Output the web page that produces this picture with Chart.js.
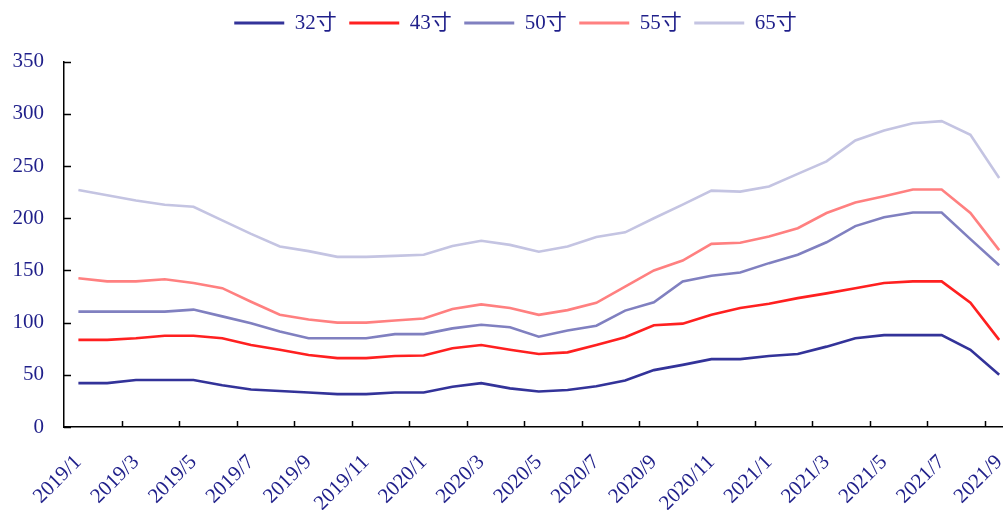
<!DOCTYPE html>
<html>
<head>
<meta charset="utf-8">
<script src="https://cdn.jsdelivr.net/npm/chart.js@4.4.1/dist/chart.umd.min.js"></script>
<style>
  html, body { margin: 0; padding: 0; background: #fff; overflow: hidden; }
  #wrap { position: relative; width: 1025px; height: 510px; }
</style>
</head>
<body>
<div id="wrap"><canvas id="c"></canvas></div>
<script>
const categories = [
  '2019/1','2019/2','2019/3','2019/4','2019/5','2019/6','2019/7','2019/8','2019/9','2019/10','2019/11','2019/12',
  '2020/1','2020/2','2020/3','2020/4','2020/5','2020/6','2020/7','2020/8','2020/9','2020/10','2020/11','2020/12',
  '2021/1','2021/2','2021/3','2021/4','2021/5','2021/6','2021/7','2021/8','2021/9'
];
const seriesNames = ['32寸', '43寸', '50寸', '55寸', '65寸'];
const s32 = [42, 42, 45, 45, 45, 40, 36, 34.5, 33, 31.5, 31.5, 33, 33, 38.5, 42, 37,
             34, 35.5, 39, 44.5, 54.5, 59.5, 65, 65, 68, 70, 77, 85, 88, 88, 88, 74, 50];
const s43 = [83.5, 83.5, 85, 87.5, 87.5, 85, 78.5, 74, 69, 66, 66, 68, 68.5, 75.5, 78.5, 74,
             70, 71.5, 78.5, 86, 97.5, 99, 107.5, 114, 118, 123.5, 128, 133, 138, 139.5, 139.5, 119, 83.5];
const s50 = [110.5, 110.5, 110.5, 110.5, 112.5, 106, 99.5, 91.5, 85, 85, 85, 89, 89, 94.5, 98, 95.5,
             86.5, 92.5, 97, 111.5, 119.5, 139.5, 145, 148, 157, 165, 177, 192.5, 201, 205.5, 205.5, 180, 155];
const s55 = [142.5, 139.5, 139.5, 141.5, 138, 133, 120, 107.5, 103, 100, 100, 102, 104, 113, 117.5, 114,
             107.5, 112, 119, 134.5, 150, 159.5, 175.5, 176.5, 182.5, 190.5, 205, 215, 221, 227.5, 227.5, 205, 169.5];
const s65 = [227, 222, 217, 213, 211, 198, 185, 173, 168.5, 163, 163, 164, 165, 173.5, 178.5, 174.5,
             168, 173, 182, 186.5, 200, 213, 226.5, 225.5, 230.5, 242.5, 254.5, 274.5, 284, 291, 293, 280, 238.5];
const yTicks = [0, 50, 100, 150, 200, 250, 300, 350];

const colors = ['#333399', '#FF2020', '#8080C0', '#FF8080', '#C4C4E2'];
const textColor = '#1f1f8a';
const fontFamily = "'Liberation Serif', 'Noto Sans CJK SC', serif";

const innerTicks = {
  id: 'innerTicks',
  afterDraw(chart) {
    const ctx = chart.ctx;
    const x = chart.scales.x, y = chart.scales.y;
    const area = chart.chartArea;
    ctx.save();
    ctx.strokeStyle = '#000';
    ctx.lineWidth = 1.5;
    ctx.beginPath();
    yTicks.forEach(v => {
      const py = Math.round(y.getPixelForValue(v)) + 0.5;
      ctx.moveTo(area.left, py);
      ctx.lineTo(area.left + 7, py);
    });
    const half = (x.getPixelForValue(1) - x.getPixelForValue(0)) / 2;
    for (let i = 2; i <= categories.length; i += 2) {
      const px = Math.round(x.getPixelForValue(i) - half) + 0.5;
      ctx.moveTo(px, area.bottom);
      ctx.lineTo(px, area.bottom - 6);
    }
    ctx.stroke();
    ctx.restore();
  }
};

const legendShift = {
  id: 'legendShift',
  afterLayout(chart) {
    const l = chart.legend;
    if (l) { l.left += 3; l.right += 3; }
  }
};

const seriesData = [s32, s43, s50, s55, s65];
new Chart(document.getElementById('c'), {
  type: 'line',
  data: {
    labels: categories,
    datasets: seriesNames.map((n, k) => ({
      label: n,
      data: seriesData[k],
      borderColor: colors[k],
      backgroundColor: colors[k],
      borderWidth: 2.6,
      pointRadius: 0,
      tension: 0,
      fill: false
    }))
  },
  options: {
    responsive: true,
    maintainAspectRatio: false,
    animation: false,
    devicePixelRatio: 1,
    layout: { padding: { top: 0, right: 0, left: 0, bottom: 0 } },
    plugins: {
      legend: {
        position: 'top',
        weight: 3000,
        labels: {
          boxWidth: 50,
          boxHeight: 3,
          padding: 12.5,
          color: textColor,
          font: { family: fontFamily, size: 21 },
          generateLabels(chart) {
            return Chart.defaults.plugins.legend.labels.generateLabels(chart).map(it => {
              it.lineWidth = 0;
              it.strokeStyle = 'rgba(0,0,0,0)';
              return it;
            });
          }
        }
      },
      title: {
        display: true,
        text: '',
        font: { size: 1 },
        padding: { top: 17, bottom: 0 }
      },
      tooltip: { enabled: false }
    },
    scales: {
      x: {
        type: 'category',
        offset: true,
        afterFit(s) { s.height = 83; },
        grid: {
          display: true, drawOnChartArea: false, drawTicks: true, tickLength: 15,
          offset: true, color: 'rgba(0,0,0,0)', tickColor: 'rgba(0,0,0,0)'
        },
        border: { display: true, color: '#000', width: 1.5 },
        ticks: {
          autoSkip: false,
          minRotation: 45,
          maxRotation: 45,
          padding: 8,
          color: textColor,
          font: { family: fontFamily, size: 21 },
          callback(v, i) { return i % 2 === 0 ? categories[i] : ''; }
        }
      },
      y: {
        min: 0,
        max: 350,
        afterFit(s) { s.width = 64; },
        afterBuildTicks(s) { s.ticks = yTicks.map(v => ({ value: v })); },
        grid: { display: true, drawOnChartArea: false, drawTicks: false, color: 'rgba(0,0,0,0)' },
        border: { display: true, color: '#000', width: 1.5 },
        ticks: {
          padding: 20,
          color: textColor,
          font: { family: fontFamily, size: 21 }
        }
      }
    }
  },
  plugins: [innerTicks, legendShift]
});
</script>
</body>
</html>
